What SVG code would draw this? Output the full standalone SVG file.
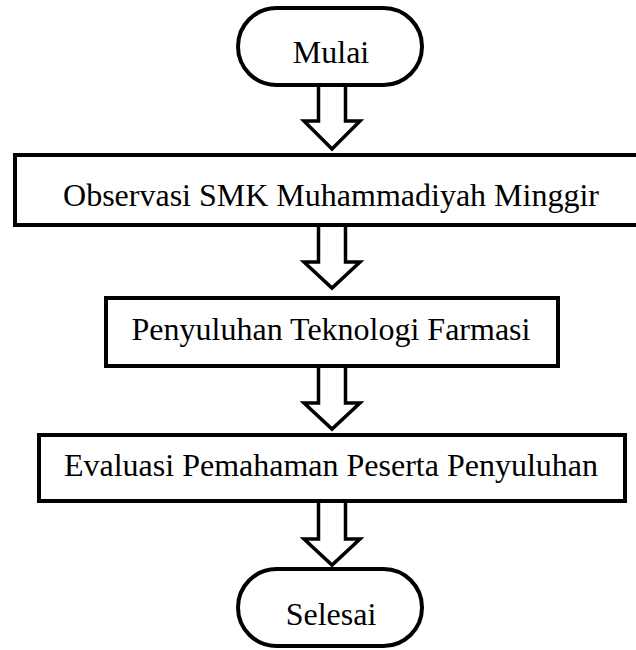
<svg xmlns="http://www.w3.org/2000/svg" width="636" height="650" viewBox="0 0 636 650">
  <style>
    .node { fill: #ffffff; stroke: #000000; stroke-width: 4; }
    .arrow { fill: #ffffff; stroke: #000000; stroke-width: 3.5; stroke-linejoin: miter; }
    .label { font-family: "Liberation Serif", "Times New Roman", serif; font-size: 32px; fill: #000000; text-anchor: middle; }
  </style>
  <rect x="0" y="0" width="636" height="650" fill="#ffffff"/>
  <g id="connectors">
    <path class="arrow" d="M318.5 86 V121 H304 L332 149 L360 121 H345.5 V86"/>
    <path class="arrow" d="M318.5 225 V262 H304 L332 288 L360 262 H345.5 V225"/>
    <path class="arrow" d="M318.5 366 V403 H304 L332 429 L360 403 H345.5 V366"/>
    <path class="arrow" d="M318.5 501 V539 H304 L332 565 L360 539 H345.5 V501"/>
  </g>
  <g id="mulai">
    <rect class="node" x="238" y="8" width="184" height="77" rx="38.5" ry="38.5"/>
    <text class="label" x="331" y="63">Mulai</text>
  </g>
  <g id="observasi">
    <rect class="node" x="15" y="155" width="633" height="70"/>
    <text class="label" x="331" y="206">Observasi SMK Muhammadiyah Minggir</text>
  </g>
  <g id="penyuluhan">
    <rect class="node" x="106" y="298" width="452" height="68"/>
    <text class="label" x="331" y="340">Penyuluhan Teknologi Farmasi</text>
  </g>
  <g id="evaluasi">
    <rect class="node" x="39" y="435" width="586" height="66"/>
    <text class="label" x="331" y="476">Evaluasi Pemahaman Peserta Penyuluhan</text>
  </g>
  <g id="selesai">
    <rect class="node" x="238" y="569" width="184" height="77" rx="38.5" ry="38.5"/>
    <text class="label" x="331" y="625">Selesai</text>
  </g>
</svg>
